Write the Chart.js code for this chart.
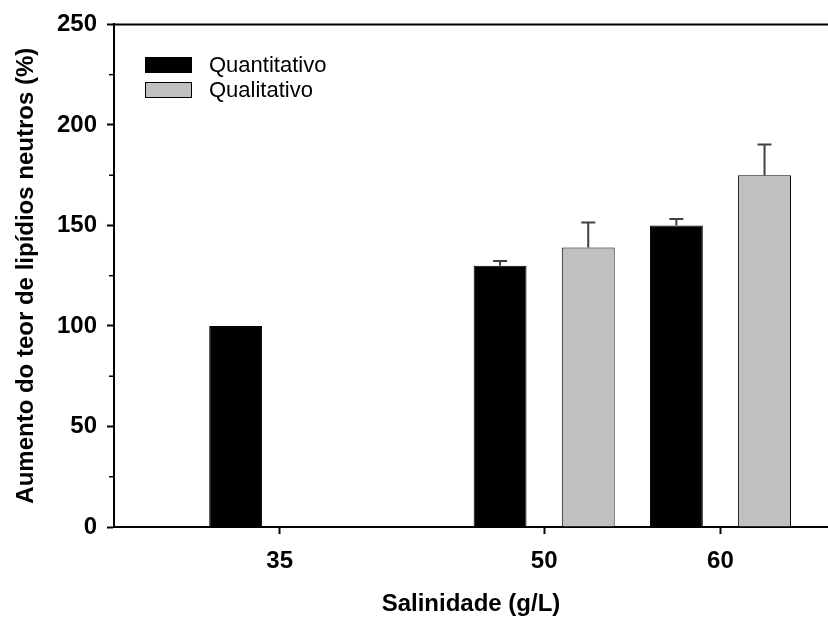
<!DOCTYPE html>
<html>
<head>
<meta charset="utf-8">
<script src="https://cdn.jsdelivr.net/npm/chart.js@4"></script>
<style>
  body { margin: 0; background: #fff; }
  #wrap { width: 828px; height: 619px; }
</style>
</head>
<body>
<div id="wrap"><canvas id="salinityChart" width="828" height="619"></canvas></div>
<script>
const salinity = [35, 50, 60];
const quantitativo = [100, 130, 150];
const quantitativoErr = [0, 2.3, 3.2];
const qualitativo = [null, 139, 175];
const qualitativoErr = [null, 12.5, 15.3];
const yTicks = [0, 50, 100, 150, 200, 250];
const yMinorTicks = [25, 75, 125, 175, 225];

const ctx = document.getElementById('salinityChart').getContext('2d');
const fontFamily = '"Liberation Sans", Arial, sans-serif';

const toPoints = (values) => salinity.map((s, i) => ({ x: s, y: values[i] }));

// error bars (upper half only), minor ticks, top frame line and legend
const extrasPlugin = {
    id: 'extras',
    afterDatasetsDraw(chart) {
        const c = chart.ctx;
        const yScale = chart.scales.y;
        const errs = [quantitativoErr, qualitativoErr];
        c.save();
        c.strokeStyle = '#404040';
        c.lineWidth = 2;
        chart.data.datasets.forEach((ds, di) => {
            const meta = chart.getDatasetMeta(di);
            meta.data.forEach((bar, i) => {
                const v = ds.data[i].y;
                const e = errs[di][i];
                if (v === null || !e) return;
                const top = yScale.getPixelForValue(v + e);
                c.beginPath();
                c.moveTo(bar.x, bar.y);
                c.lineTo(bar.x, top);
                c.moveTo(bar.x - 7, top);
                c.lineTo(bar.x + 7, top);
                c.stroke();
            });
        });
        c.restore();
    },
    afterDraw(chart) {
        const c = chart.ctx;
        const area = chart.chartArea;
        const yScale = chart.scales.y;
        c.save();
        c.strokeStyle = '#000';
        c.lineWidth = 2;
        c.beginPath();
        c.moveTo(area.left - 1, area.top);
        c.lineTo(area.right, area.top);
        c.stroke();

        c.lineWidth = 1.5;
        yMinorTicks.forEach(v => {
            const py = yScale.getPixelForValue(v);
            c.beginPath();
            c.moveTo(area.left - 5, py);
            c.lineTo(area.left, py);
            c.stroke();
        });

        // legend
        c.font = '22px ' + fontFamily;
        c.textBaseline = 'middle';
        chart.data.datasets.forEach((ds, i) => {
            const y0 = 57 + i * 25;
            c.fillStyle = ds.backgroundColor;
            c.fillRect(145, y0, 47, 16);
            c.lineWidth = 1;
            c.strokeStyle = '#000';
            c.strokeRect(145.5, y0 + 0.5, 46, 15);
            c.fillStyle = '#000';
            c.fillText(ds.label, 209, y0 + 9);
        });
        c.restore();
    }
};

new Chart(ctx, {
    type: 'bar',
    data: {
        datasets: [{
            label: 'Quantitativo',
            data: toPoints(quantitativo),
            backgroundColor: '#000000',
            borderColor: '#000000',
            borderWidth: 1
        }, {
            label: 'Qualitativo',
            data: toPoints(qualitativo),
            backgroundColor: '#c0c0c0',
            borderColor: '#000000',
            borderWidth: 1
        }]
    },
    options: {
        responsive: false,
        animation: false,
        devicePixelRatio: 1,
        categoryPercentage: 1.0,
        barPercentage: 0.6,
        layout: { padding: { top: 22, right: 0, bottom: 0, left: 0 } },
        plugins: {
            legend: { display: false },
            tooltip: { enabled: false }
        },
        scales: {
            x: {
                type: 'linear',
                min: 25.6,
                max: 66.1,
                offset: false,
                afterBuildTicks: (axis) => { axis.ticks = salinity.map(v => ({ value: v })); },
                afterFit: (axis) => { axis.height = 92; },
                ticks: {
                    color: '#000',
                    font: { family: fontFamily, size: 24, weight: 'bold' },
                    padding: 13
                },
                grid: { offset: false, drawOnChartArea: false, tickLength: 7, tickColor: '#000', tickWidth: 2 },
                border: { color: '#000', width: 2 },
                title: {
                    display: true,
                    text: 'Salinidade (g/L)',
                    color: '#000',
                    font: { family: fontFamily, size: 24, weight: 'bold' },
                    padding: { top: 15, bottom: 0 }
                }
            },
            y: {
                min: 0,
                max: 250,
                afterBuildTicks: (axis) => { axis.ticks = yTicks.map(v => ({ value: v })); },
                afterFit: (axis) => { axis.width = 114; },
                ticks: {
                    color: '#000',
                    font: { family: fontFamily, size: 24, weight: 'bold' },
                    padding: 10
                },
                grid: { drawOnChartArea: false, tickLength: 7, tickColor: '#000', tickWidth: 2 },
                border: { color: '#000', width: 2 },
                title: {
                    display: true,
                    text: 'Aumento do teor de lipídios neutros (%)',
                    color: '#000',
                    font: { family: fontFamily, size: 24, weight: 'bold' },
                    padding: { top: 12, bottom: 0 }
                }
            }
        }
    },
    plugins: [extrasPlugin]
});
</script>
</body>
</html>
